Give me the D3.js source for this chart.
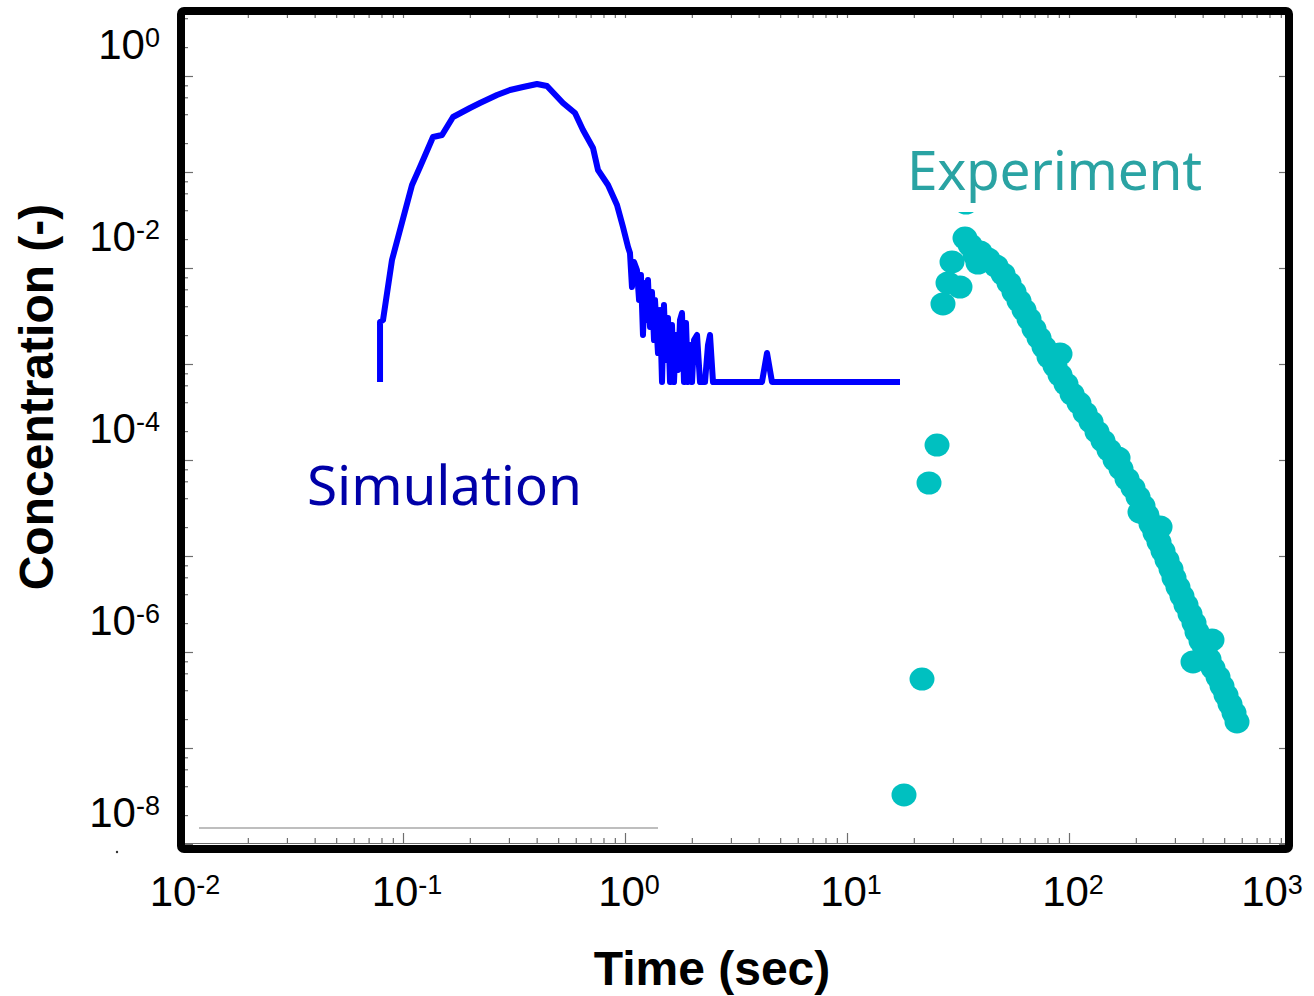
<!DOCTYPE html>
<html>
  <head>
    <meta charset="UTF-8" />
    <script src="https://d3js.org/d3.v7.min.js"></script>
    <style>
      body { margin: 0; background: #fff; }
      text { font-family: "Liberation Sans", Arial, sans-serif; }
    </style>
  </head>
  <body>
    <div id="chart"></div>

    <script>
      // simulation curve (time in sec, concentration)
      var simTime = [0.0788, 0.0788, 0.0813, 0.0892, 0.1098, 0.1193, 0.1365, 0.1499, 0.168, 0.2003,
        0.2222, 0.2651, 0.3034, 0.3472, 0.4014, 0.4452, 0.5256, 0.5954, 0.6468, 0.7177,
        0.7558, 0.8385, 0.9204, 0.9795, 1.032, 1.053, 1.075, 1.098, 1.132, 1.157,
        1.180, 1.205, 1.231, 1.257, 1.269, 1.296, 1.323, 1.351, 1.365, 1.408,
        1.438, 1.468, 1.498, 1.530, 1.562, 1.595, 1.628, 1.662, 1.697, 1.733,
        1.769, 1.806, 1.844, 1.883, 1.922, 1.963, 2.004, 2.046, 2.111, 2.177,
        2.293, 2.365, 2.415, 2.491, 2.544, 4.141, 4.362, 4.594, 17.33];
      var simConc = [6.49e-4, 2.74e-3, 2.87e-3, 0.0121, 0.0732, 0.1127, 0.2315, 0.2428, 0.374, 0.4642,
        0.5233, 0.6341, 0.7145, 0.7678, 0.8254, 0.7868, 0.5233, 0.4118, 0.2738, 0.1778,
        0.1049, 0.0732, 0.0453, 0.0267, 0.01655, 0.01433, 0.00634, 0.01155, 0.00953, 0.00464,
        0.00845, 0.002005, 0.00698, 0.00287, 0.0075, 0.00243, 0.005623, 0.001778, 0.00464, 0.0013,
        0.003652, 6.49e-4, 0.00412, 0.0011, 0.003014, 6.49e-4, 0.002548, 6.49e-4, 0.002005, 0.000866,
        0.00287, 0.0034, 6.49e-4, 0.00267, 6.49e-4, 0.001578, 6.49e-4, 0.001778, 0.002005, 6.49e-4,
        6.49e-4, 0.001578, 0.002005, 6.49e-4, 6.49e-4, 6.49e-4, 0.0013, 6.49e-4, 6.49e-4];

      // experiment points
      var expTime = [18.06, 21.77, 23.41, 25.44, 27.06, 28.51, 32.28, 29.72, 34.0, 34.36, 38.9, 35.83, 37.72,
        39.72, 43.17, 46.91, 50.43, 53.65, 56.52, 59.54, 62.71, 66.04, 69.56,
        73.27, 77.17, 81.27, 86.48, 91.1, 96.9, 103.2, 110.9, 118.1, 125.7,
        133.7, 142.3, 151.4, 161.2, 171.5, 182.5, 194.2, 204.6, 215.4, 224.6,
        234.1, 244.0, 254.4, 265.1, 276.4, 288.1, 297.2, 309.7, 322.8, 336.5,
        350.8, 365.7, 377.2, 393.2, 409.9, 427.2, 445.3, 469.0, 488.9, 509.6,
        531.2, 553.7, 571.2,
        91.1, 361.9, 208.8, 166.3, 257.1, 440.7];
      var expConc = [3.24e-8, 5.23e-7, 5.76e-5, 1.43e-4, 4.22e-3, 6.98e-3, 6.34e-3, 1.155e-2, 2.05e-2, 4.75e-2, 1.127e-2, 1.736e-2, 1.366e-2,
        0.01468, 0.01241, 0.01049, 0.00866, 0.00698, 0.005623, 0.004532, 0.003652, 0.002943, 0.002315,
        0.001866, 0.001503, 0.001183, 0.000953, 0.000768, 0.000619, 0.000487, 0.000392, 0.000309, 0.000249,
        0.000196, 1.578e-4, 1.271e-4, 1.0e-4, 8.06e-5, 6.34e-5, 5.11e-5, 4.12e-5, 3.32e-5, 2.67e-5,
        2.15e-5, 1.736e-5, 1.398e-5, 1.127e-5, 9.08e-6, 7.32e-6, 5.90e-6, 4.75e-6, 3.83e-6, 3.09e-6,
        2.49e-6, 2.005e-6, 1.616e-6, 1.302e-6, 1.049e-6, 8.45e-7, 6.81e-7, 5.49e-7, 4.42e-7, 3.56e-7,
        2.87e-7, 2.315e-7, 1.866e-7,
        1.271e-3, 7.87e-7, 2.87e-5, 1.049e-4, 2.005e-5, 1.334e-6];

      // faint grey line near the bottom of the plot
      var refTime = [0.01205, 1.408];
      var refConc = [1.47e-8, 1.47e-8];

      var xLabelExps = [-2, -1, 0, 1, 2, 3];
      var yLabelExps = [0, -2, -4, -6, -8];

      var width = 1314, height = 996;

      var svg = d3.select("#chart").append("svg")
        .attr("width", width)
        .attr("height", height);

      var x = d3.scaleLog().domain([1e-2, 1e3]).range([181, 1291]);
      var y = d3.scaleLog().domain([1e-8, 1]).range([844, 76]);

      // tick values
      var xMajor = d3.range(-2, 4).map(function (e) { return Math.pow(10, e); });
      var xMinor = [];
      d3.range(-2, 3).forEach(function (e) {
        for (var m = 2; m <= 9; m++) xMinor.push(m * Math.pow(10, e));
      });
      var yMajor = d3.range(-8, 1).map(function (e) { return Math.pow(10, e); });
      var yMinor = [];
      d3.range(-9, 1).forEach(function (e) {
        [2, 4, 6, 8].forEach(function (m) {
          var v = m * Math.pow(10, e);
          if (y(v) > 16 && y(v) < 844) yMinor.push(v);
        });
      });

      function tickAxis(axis, tr) {
        var g = svg.append("g")
          .attr("transform", tr)
          .attr("color", "#6e6e6e")
          .call(axis.tickFormat("").tickSizeOuter(0));
        g.selectAll("line").attr("stroke-width", 1.2);
        return g;
      }

      // bottom
      tickAxis(d3.axisBottom(x).tickValues(xMajor).tickSize(-10), "translate(0,843)");
      tickAxis(d3.axisBottom(x).tickValues(xMinor).tickSize(-5), "translate(0,843)")
        .select(".domain").remove();
      // top
      tickAxis(d3.axisTop(x).tickValues(xMajor.concat(xMinor)).tickSize(-3), "translate(0,15)")
        .select(".domain").remove();
      // left
      tickAxis(d3.axisLeft(y).tickValues(yMajor).tickSize(-8), "translate(185,0)")
        .select(".domain").remove();
      tickAxis(d3.axisLeft(y).tickValues(yMinor).tickSize(-3), "translate(185,0)")
        .select(".domain").remove();
      // right
      tickAxis(d3.axisRight(y).tickValues(yMajor).tickSize(-6), "translate(1285,0)")
        .select(".domain").remove();

      var line = d3.line()
        .x(function (d) { return x(d[0]); })
        .y(function (d) { return y(d[1]); });

      // grey reference line
      var refPts = refTime.map(function (t, i) { return [t, refConc[i]]; });
      svg.append("path")
        .datum(refPts)
        .attr("fill", "none")
        .attr("stroke", "#a8a8a8")
        .attr("stroke-width", 1.5)
        .attr("d", line);

      // simulation line
      var simPts = simTime.map(function (t, i) { return [t, simConc[i]]; });
      svg.append("path")
        .datum(simPts)
        .attr("fill", "none")
        .attr("stroke", "#0000ff")
        .attr("stroke-width", 6)
        .attr("stroke-linejoin", "round")
        .attr("d", line);

      // experiment dots
      var expPts = expTime.map(function (t, i) { return [t, expConc[i]]; });
      svg.append("g")
        .attr("fill", "#00c0c0")
        .selectAll("ellipse")
        .data(expPts)
        .enter()
        .append("ellipse")
        .attr("cx", function (d) { return x(d[0]); })
        .attr("cy", function (d) { return y(d[1]); })
        .attr("rx", 12.5)
        .attr("ry", 11.5);

      // text boxes
      svg.append("rect")
        .attr("x", 900).attr("y", 138)
        .attr("width", 312).attr("height", 74)
        .attr("fill", "#fff");
      svg.append("text")
        .attr("x", 907).attr("y", 190)
        .attr("fill", "#2aa3a3")
        .style("font-family", "'Noto Sans', 'Open Sans', sans-serif")
        .style("font-size", "55px")
        .attr("textLength", 295)
        .text("Experiment");
      svg.append("text")
        .attr("x", 307).attr("y", 505)
        .attr("fill", "#0000a8")
        .style("font-family", "'Noto Sans', 'Open Sans', sans-serif")
        .style("font-size", "55px")
        .attr("textLength", 275)
        .text("Simulation");

      // frame
      svg.append("rect")
        .attr("x", 181).attr("y", 11)
        .attr("width", 1108).attr("height", 838)
        .attr("rx", 3)
        .attr("fill", "none")
        .attr("stroke", "#000")
        .attr("stroke-width", 8);

      // tick labels
      function powLabel(sel, e) {
        sel.append("tspan").text("10");
        sel.append("tspan").attr("dy", -12).style("font-size", "27px").text(e);
      }
      svg.append("g").selectAll("text")
        .data(xLabelExps)
        .enter()
        .append("text")
        .attr("x", function (e) { return Math.min(x(Math.pow(10, e)) + 4, width - 42); })
        .attr("y", 906)
        .attr("text-anchor", "middle")
        .style("font-size", "42px")
        .each(function (e) { powLabel(d3.select(this), e); });

      svg.append("g").selectAll("text")
        .data(yLabelExps)
        .enter()
        .append("text")
        .attr("x", 160)
        .attr("y", function (e) { return y(Math.pow(10, e)) - 17; })
        .attr("text-anchor", "end")
        .style("font-size", "42px")
        .each(function (e) { powLabel(d3.select(this), e); });

      // axis titles
      svg.append("text")
        .attr("x", 712).attr("y", 985)
        .attr("text-anchor", "middle")
        .style("font-size", "48px")
        .style("font-weight", "bold")
        .text("Time (sec)");
      svg.append("text")
        .attr("transform", "translate(53,397) rotate(-90)")
        .attr("text-anchor", "middle")
        .style("font-size", "48px")
        .style("font-weight", "bold")
        .text("Concentration (-)");

      // stray dot below the y labels
      svg.append("circle").attr("cx", 117).attr("cy", 852).attr("r", 1.2).attr("fill", "#333");
    </script>
  </body>
</html>
